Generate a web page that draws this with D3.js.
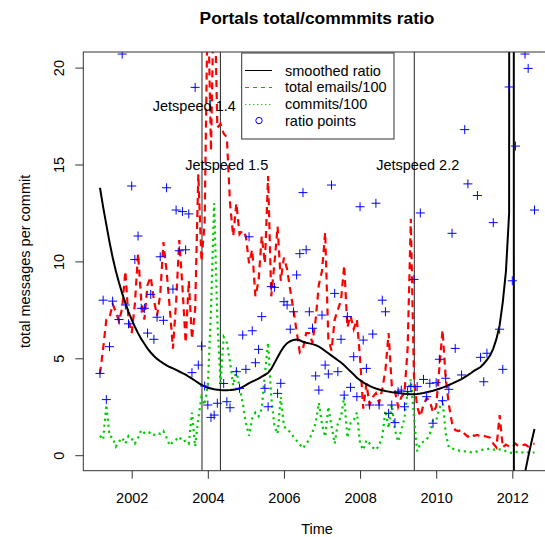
<!DOCTYPE html>
<html><head><meta charset="utf-8">
<script src="https://cdn.jsdelivr.net/npm/d3@7"></script>
<style>body{margin:0;background:#fff}svg{display:block;font-family:"Liberation Sans",Arial,sans-serif}</style>
</head><body><svg id="c" width="545" height="537"></svg>
<script>
// monthly series, first month = March 2001
const startYear = 2001, startMonth = 3;
const emails = [
4.2,5.5,7.0,7.1,7.8,7.4,6.9,7.6,9.5,7.0,
6.3,7.8,10.4,8.0,7.0,8.8,9.2,8.0,7.2,8.3,
11.0,9.5,7.6,5.5,7.9,11.1,8.7,5.8,9.0,6.0,
7.5,14.5,10.0,12.0,24,15.7,25,16.9,17.1,16.6,
16.4,13.0,11.3,13.0,11.4,11.6,11.3,9.9,10.6,8.2,
9.0,11.3,9.9,14.4,8.2,9.9,11.8,9.0,10.2,9.6,
8.5,7.5,6.4,5.3,5.5,6.3,6.3,5.8,7.0,8.8,
9.5,11.5,6.0,5.4,7.0,7.5,8.0,9.8,6.6,7.2,
6.5,7.0,5.0,2.4,3.7,2.6,3.0,3.2,2.7,3.4,
4.4,6.3,3.6,3.3,2.5,3.0,3.2,5.5,12.2,4.0,
2.5,2.0,2.6,2.95,2.8,2.2,2.5,4.5,6.46,4.0,
2.6,1.65,1.3,1.25,1.3,1.1,0.95,1.1,1.0,1.05,
0.95,1.0,0.95,0.9,0.6,0.4,2.07,0.4,0.55,0.45,
0.4,0.6,0.45,0.5,0.55,0.45,0.55,0.6];
const commits = [
1.0,0.8,2.6,1.0,0.9,0.45,0.7,0.9,0.6,1.0,
0.85,0.6,0.9,1.3,1.15,1.1,1.2,1.05,1.15,1.1,
1.25,0.9,0.5,0.7,0.8,0.95,0.7,0.75,0.6,2.2,
0.45,1.9,3.0,2.6,3.6,7.5,13.0,7.0,3.7,6.1,
5.8,4.8,3.6,4.4,3.5,2.7,1.65,1.0,1.9,2.2,
2.0,2.4,4.2,5.8,3.0,1.5,1.1,3.0,1.5,1.3,
1.2,0.95,0.75,0.55,0.36,0.6,0.8,1.2,1.65,2.7,
1.6,0.95,2.5,1.5,0.6,1.65,2.0,3.0,0.9,1.65,
1.8,2.2,0.6,0.27,0.78,0.6,0.4,0.27,0.5,0.95,
2.3,1.4,2.6,1.3,0.7,1.3,1.9,3.3,3.9,2.0,
0.2,0.6,0.7,0.8,1.1,1.8,1.8,2.4,2.85,1.13,
0.4,0.35,0.3,0.25,0.2,0.2,0.2,0.15,0.15,0.2,
0.25,0.3,0.3,0.35,0.3,0.25,0.3,0.3,0.2,0.15,
0.1,0.15,0.2,0.15,0.1,0.15,0.1,0.15];
const ratioPoints = [
4.22,8.0,2.87,5.6,7.95,null,7.0,20.7,7.75,6.78,
13.89,10.1,11.31,7.58,7.58,6.3,8.3,5.98,7.12,10.24,
6.96,13.8,null,8.57,12.65,10.55,12.57,10.6,12.45,4.26,
18.98,4.65,5.63,3.57,2.59,1.95,2.07,2.68,null,3.7,
2.76,2.45,null,4.31,3.45,6.2,4.43,11.27,6.42,4.77,
5.46,7.15,3.45,2.5,8.7,8.66,3.19,3.71,7.92,7.75,
6.5,7.4,9.3,10.4,13.55,10.6,7.4,6.55,4.09,3.36,
7.23,4.65,4.19,13.94,8.35,4.31,5.98,3.1,7.15,3.5,
5.08,3.02,12.82,5.94,4.48,2.59,6.25,13.0,2.59,8.0,
7.4,2.16,2.59,1.68,3.28,3.36,2.5,3.28,3.54,9.07,
3.54,12.5,3.91,3.02,3.71,1.65,3.74,4.95,2.81,3.97,
3.4,11.45,5.51,null,4.14,16.8,14.0,null,null,13.4,
5.05,3.79,5.26,null,12.0,null,6.5,4.43,null,19.0,
9.0,15.95,null,null,20.7,19.96,null,12.65];
const smoothed = [
13.8,12.8,11.9,11.0,10.2,9.5,8.9,8.35,7.85,7.4,
7.0,6.63,6.3,6.0,5.75,5.5,5.3,5.12,4.97,4.85,
4.74,4.64,4.55,4.48,4.40,4.32,4.24,4.16,4.05,3.95,
3.84,3.73,3.63,3.55,3.48,3.44,3.40,3.38,3.36,3.35,
3.35,3.36,3.38,3.40,3.44,3.52,3.62,3.72,3.80,3.87,
3.95,4.05,4.15,4.25,4.45,4.75,5.05,5.35,5.60,5.78,
5.88,5.95,5.97,5.93,5.85,5.80,5.77,5.73,5.68,5.60,
5.50,5.38,5.26,5.14,5.02,4.90,4.78,4.64,4.48,4.32,
4.16,4.00,3.87,3.76,3.66,3.58,3.50,3.44,3.39,3.35,
3.31,3.28,3.25,3.23,3.21,3.19,3.17,3.16,3.15,3.15,
3.16,3.18,3.21,3.25,3.29,3.33,3.38,3.43,3.49,3.55,
3.62,3.69,3.77,3.85,3.93,4.03,4.13,4.24,4.36,4.45,
4.55,4.72,4.92,5.15,5.5,6.0,6.7,7.9,9.5,12.5,
400,-400,-12,-3,-0.9,-0.1,0.65,1.35];
const releases = [
  {name:"Jetspeed 1.4", date:2003.847},
  {name:"Jetspeed 1.5", date:2004.33},
  {name:"Jetspeed 2.2", date:2009.425}];
const releaseLabels = [
  {text:"Jetspeed 1.4", x:2003.645, y:18},
  {text:"Jetspeed 1.5", x:2004.496, y:15},
  {text:"Jetspeed 2.2", x:2009.515, y:15}];
const xTicks = [2002,2004,2006,2008,2010,2012];
const yTicks = [0,5,10,15,20];
const legendLabels = ["smoothed ratio","total emails/100","commits/100","ratio points"];
const titleText = "Portals total/commmits ratio";

const timeOf = i => startYear + (startMonth - 1 + i) / 12;

const svg = d3.select("#c");
const L = 83.3, R = 550.7, T = 52, B = 470.7;
const x = d3.scaleLinear().domain([2002, 2012]).range([131.7, 512.3]);
const y = d3.scaleLinear().domain([0, 20]).range([455.2, 67.6]);
const FS = 14.5;

svg.append("defs").append("clipPath").attr("id","clip")
  .append("rect").attr("x",L).attr("y",T).attr("width",R-L).attr("height",B-T);
const plot = svg.append("g").attr("clip-path","url(#clip)");

// release lines
plot.selectAll("line.rel").data(releases).join("line")
  .attr("x1",d=>x(d.date)).attr("x2",d=>x(d.date)).attr("y1",T).attr("y2",B)
  .attr("stroke","#222").attr("stroke-width",1);

const mk = arr => arr.map((v,i)=>({t:timeOf(i), v}));
const line = d3.line().defined(d=>d.v!=null).x(d=>x(d.t)).y(d=>y(d.v));

plot.append("path").attr("d", line(mk(emails))).attr("fill","none")
  .attr("stroke","#FF0000").attr("stroke-width",2.2).attr("stroke-dasharray","7,5");
plot.append("path").attr("d", line(mk(commits))).attr("fill","none")
  .attr("stroke","#00CD00").attr("stroke-width",2.2).attr("stroke-dasharray","2.2,3.8");
plot.append("path").attr("d", line(mk(smoothed))).attr("fill","none")
  .attr("stroke","#000").attr("stroke-width",2);

const pts = mk(ratioPoints).filter(d=>d.v!=null);
const ps = 4.5;
plot.selectAll("path.pt").data(pts).join("path")
  .attr("d", d=>{const cx=x(d.t), cy=y(d.v); return `M${cx-ps},${cy}H${cx+ps}M${cx},${cy-ps}V${cy+ps}`;})
  .attr("stroke","#0000FF").attr("stroke-width",1).attr("fill","none");

// labels
svg.selectAll("text.rl").data(releaseLabels).join("text")
  .attr("x",d=>x(d.x)).attr("y",d=>y(d.y)).attr("dy","0.35em")
  .attr("text-anchor","middle").attr("font-size",FS).attr("fill","#000").text(d=>d.text);

// box
svg.append("rect").attr("x",L).attr("y",T).attr("width",R-L).attr("height",B-T)
  .attr("fill","none").attr("stroke","#333").attr("stroke-width",1);

// axes
const xa = svg.append("g").attr("transform",`translate(0,${B})`)
  .call(d3.axisBottom(x).tickValues(xTicks).tickFormat(d3.format("d")).tickSize(8).tickPadding(14));
xa.select(".domain").remove();
xa.selectAll("line").attr("stroke","#333");
xa.selectAll("text").attr("font-size",FS).attr("font-family","Liberation Sans, Arial, sans-serif").attr("fill","#000");
const ya = svg.append("g").attr("transform",`translate(${L},0)`)
  .call(d3.axisLeft(y).tickValues(yTicks).tickSize(8).tickFormat(d3.format("d")));
ya.select(".domain").remove();
ya.selectAll("line").attr("stroke","#333");
ya.selectAll("text").attr("font-size",FS).attr("font-family","Liberation Sans, Arial, sans-serif").attr("fill","#000")
  .attr("text-anchor","middle").attr("dy","0").attr("x",0).attr("y",0)
  .attr("transform","translate(-24,0) rotate(-90)")
  .attr("dominant-baseline","central");

// titles
svg.append("text").attr("x",(L+R)/2).attr("y",24).attr("text-anchor","middle")
  .attr("font-size",17.4).attr("font-weight","bold").text(titleText);
svg.append("text").attr("x",(L+R)/2).attr("y",534).attr("text-anchor","middle")
  .attr("font-size",FS).text("Time");
svg.append("text").attr("transform",`translate(30,${(T+B)/2}) rotate(-90)`).attr("text-anchor","middle")
  .attr("font-size",FS).text("total messages per commit");

// legend
const lg = svg.append("g");
const lx = 241.7, ly = 53, lw = 152.3, lh = 86;
lg.append("rect").attr("x",lx).attr("y",ly).attr("width",lw).attr("height",lh)
  .attr("fill","#fff").attr("stroke","#333").attr("stroke-width",1);
const rowY = i => 70.5 + i*16.7;
lg.append("line").attr("x1",245).attr("x2",272).attr("y1",70.5).attr("y2",70.5)
  .style("stroke","#000").style("stroke-width","1");
lg.append("line").attr("x1",245).attr("x2",272).attr("y1",87.5).attr("y2",87.5)
  .style("stroke","#ff3030").style("stroke-width","1.2").style("stroke-dasharray","4,4");
lg.append("line").attr("x1",245).attr("x2",272).attr("y1",104.5).attr("y2",104.5)
  .style("stroke","#30d030").style("stroke-width","1.2").style("stroke-dasharray","1.5,2.5");
lg.append("circle").attr("cx",259).attr("cy",rowY(3)).attr("r",3.2).attr("fill","none").attr("stroke","#0000FF");
lg.selectAll("text").data(legendLabels).join("text")
  .attr("x",285).attr("y",(d,i)=>rowY(i)).attr("dy","0.35em").attr("font-size",FS).text(d=>d);
</script></body></html>
